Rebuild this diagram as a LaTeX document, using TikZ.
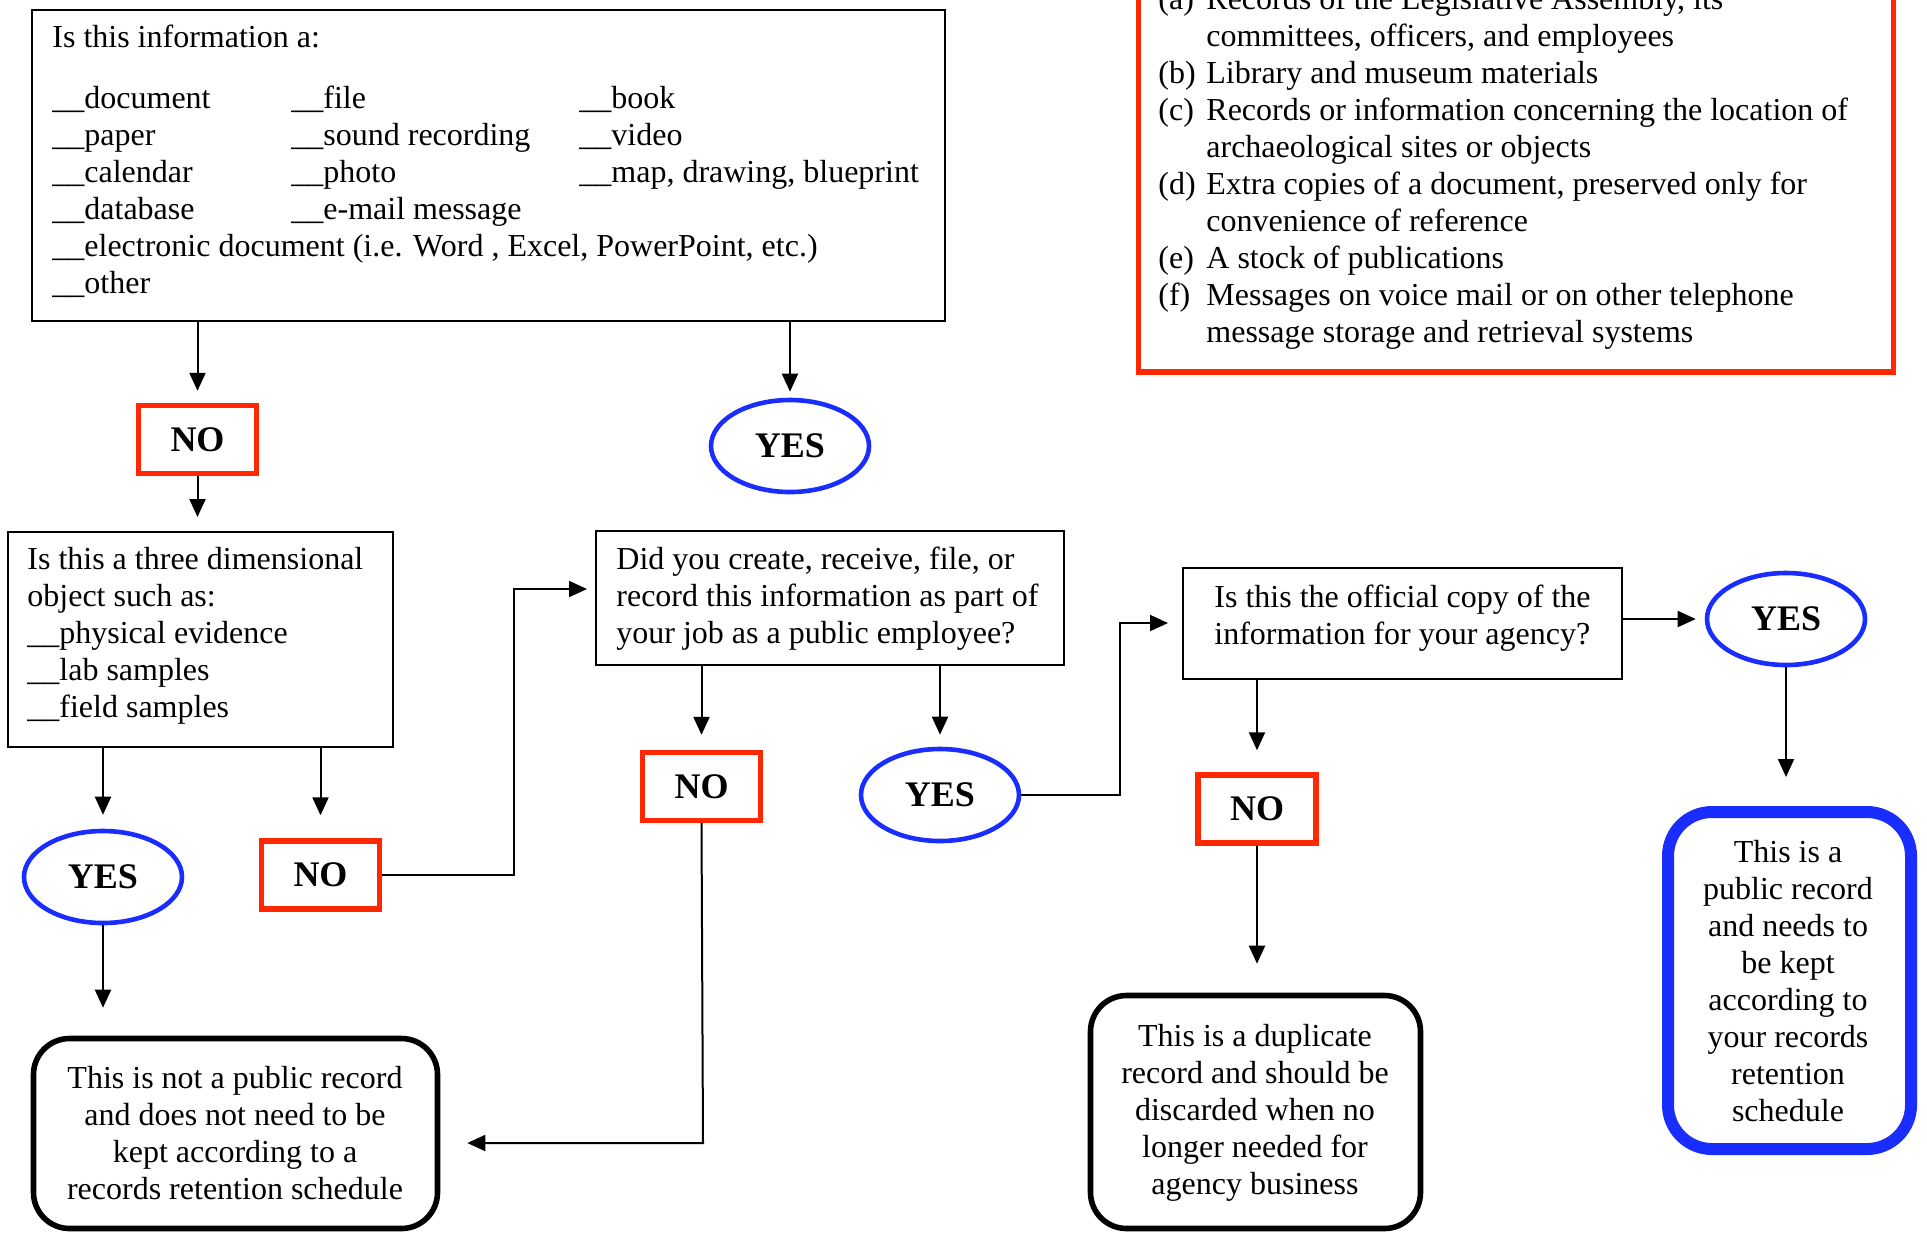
\documentclass[tikz,border=0pt]{standalone}
\usepackage{fontspec}
\setmainfont{Liberation Serif}
\usetikzlibrary{arrows.meta,shapes.geometric}
\definecolor{nored}{RGB}{255,40,0}
\definecolor{yesblue}{RGB}{25,45,255}
\begin{document}
\begin{tikzpicture}[x=0.5pt,y=-0.5pt,
  txt/.style={inner sep=0pt, yshift=-0.8pt, font=\fontsize{16pt}{18.5pt}\selectfont},
  qbox/.style={draw, line width=1pt, rectangle, inner sep=0pt, anchor=north west},
  nobox/.style={draw=nored, line width=2.7pt, rectangle, minimum width=59pt, minimum height=34pt, inner sep=0pt, font=\fontsize{18pt}{21pt}\selectfont\bfseries},
  yesell/.style={draw=yesblue, ellipse, line width=2.3pt, minimum width=79pt, minimum height=46pt, inner sep=0pt, font=\fontsize{18pt}{21pt}\selectfont\bfseries},
  endbox/.style={draw, rounded corners=18pt, line width=2.8pt, inner sep=0pt},
  arr/.style={-{Triangle[length=9pt,width=8pt]}, line width=1pt},
  ln/.style={line width=1pt}
]
\useasboundingbox (0,0) rectangle (1927,1233);

% ---------- top question box ----------
\node[qbox, minimum width=456.5pt, minimum height=155.5pt] (q1) at (31,9) {};
\node[txt, anchor=base west] (q1t) at (52,46) {Is this information a:};
\foreach \t [count=\i from 0] in {\_\_document,\_\_paper,\_\_calendar,\_\_database,{\_\_electronic document (i.e. Word , Excel, PowerPoint, etc.)},\_\_other}
  \node[txt, anchor=base west] (c1r\i) at (52,{107+37*\i}) {\t};
\foreach \t [count=\i from 0] in {\_\_file,\_\_sound recording,\_\_photo,\_\_e-mail message}
  \node[txt, anchor=base west] (c2r\i) at (291,{107+37*\i}) {\t};
\foreach \t [count=\i from 0] in {\_\_book,\_\_video,{\_\_map, drawing, blueprint}}
  \node[txt, anchor=base west] (c3r\i) at (579,{107+37*\i}) {\t};

% ---------- list box (top right) ----------
\node[draw=nored, line width=2.7pt, anchor=south west, minimum width=377.5pt, minimum height=202pt, inner sep=0pt] (lst) at (1135.5,374.5) {};
\foreach \t [count=\i from 0] in {{Records of the Legislative Assembly, its},{committees, officers, and employees},{Library and museum materials},{Records or information concerning the location of},{archaeological sites or objects},{Extra copies of a document, preserved only for},{convenience of reference},{A stock of publications},{Messages on voice mail or on other telephone},{message storage and retrieval systems}}
  \node[txt, anchor=base west] (ll\i) at (1206,{8+37*\i}) {\t};
\foreach \l/\r in {(a)/0,(b)/2,(c)/3,(d)/5,(e)/7,(f)/8}
  \node[txt, anchor=base west] (lb\r) at (1158,{8+37*\r}) {\l};

% ---------- decision nodes ----------
\node[nobox] (n1) at (197.5,439.5) {NO};
\node[yesell] (y1) at (790,446) {YES};

\node[qbox, minimum width=192.5pt, minimum height=107.5pt] (q2) at (7,531) {};
\foreach \t [count=\i from 0] in {Is this a three dimensional,object such as:,\_\_physical evidence,\_\_lab samples,\_\_field samples}
  \node[txt, anchor=base west] (q2l\i) at (27,{568+37*\i}) {\t};

\node[yesell] (y2) at (103,877) {YES};
\node[nobox] (n2) at (320.5,875) {NO};

\node[qbox, minimum width=234pt, minimum height=67pt] (q3) at (595,530) {};
\foreach \t [count=\i from 0] in {{Did you create, receive, file, or},record this information as part of,your job as a public employee?}
  \node[txt, anchor=base west] (q3l\i) at (616,{568+37*\i}) {\t};

\node[nobox] (n3) at (701.5,786.5) {NO};
\node[yesell] (y3) at (940,795) {YES};

\node[qbox, minimum width=219.5pt, minimum height=55.5pt] (q4) at (1182,567) {};
\foreach \t [count=\i from 0] in {Is this the official copy of the,information for your agency?}
  \node[txt, anchor=base west] (q4l\i) at (1214,{606+37*\i}) {\t};

\node[yesell] (y4) at (1786,619) {YES};
\node[nobox] (n4) at (1257,809) {NO};

% ---------- end boxes ----------
\node[endbox, minimum width=202pt, minimum height=95pt] (np) at (235.5,1133.5) {};
\foreach \t [count=\i from 0] in {This is not a public record,and does not need to be,kept according to a,records retention schedule}
  \node[txt, anchor=base] (npl\i) at (235,{1087+37*\i}) {\t};

\node[endbox, minimum width=165pt, minimum height=116.5pt] (dup) at (1255.5,1112) {};
\foreach \t [count=\i from 0] in {This is a duplicate,record and should be,discarded when no,longer needed for,agency business}
  \node[txt, anchor=base] (dupl\i) at (1255,{1045+37*\i}) {\t};

\node[draw=yesblue, rounded corners=22pt, line width=6pt, inner sep=0pt, minimum width=121.5pt, minimum height=168.5pt] (pub) at (1789.5,980.5) {};
\foreach \t [count=\i from 0] in {This is a,public record,and needs to,be kept,according to,your records,retention,schedule}
  \node[txt, anchor=base] (publ\i) at (1788,{861+37*\i}) {\t};

% ---------- connectors ----------
\coordinate (j1) at (514,589);
\coordinate (j2) at (1120,623);
\coordinate (j3) at (703,1143);

\draw[arr, shorten >=6pt] (q1.south -| n1.north) -- (n1.north);
\draw[arr, shorten >=3pt] (q1.south -| y1.north) -- (y1.north);
\draw[arr, shorten >=7pt] (n1.south) -- (n1.south |- q2.north);
\draw[arr, shorten >=7pt] (q2.south -| y2.north) -- (y2.north);
\draw[arr, shorten >=11.5pt] (q2.south -| n2.north) -- (n2.north);
\draw[arr, shorten >=4pt] (n2.east) -| (j1) -- (j1 -| q3.west);
\draw[arr, shorten >=7.5pt] (q3.south -| n3.north) -- (n3.north);
\draw[arr, shorten >=6pt] (q3.south -| y3.north) -- (y3.north);
\draw[arr, shorten >=13.5pt] (n3.south) -- (j3) -- (j3 -| np.east);
\draw[arr, shorten >=14pt] (y2.south) -- (y2.south |- np.north);
\draw[arr, shorten >=7pt] (y3.east) -| (j2) -- (j2 -| q4.west);
\draw[arr, shorten >=4.5pt] (q4.east |- y4.west) -- (y4.west);
\draw[arr, shorten >=11pt] (q4.south -| n4.north) -- (n4.north);
\draw[arr, shorten >=14.5pt] (n4.south) -- (n4.south |- dup.north);
\draw[arr, shorten >=14.5pt] (y4.south) -- (y4.south |- pub.north);
\end{tikzpicture}
\end{document}
